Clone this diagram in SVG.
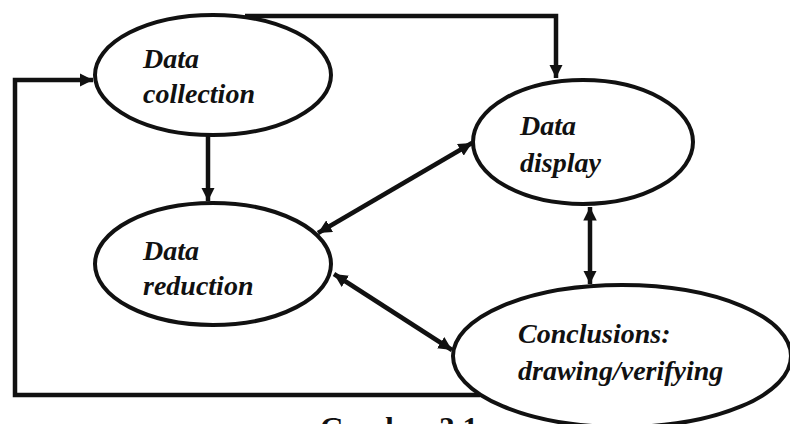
<svg xmlns="http://www.w3.org/2000/svg" width="790" height="424" viewBox="0 0 790 424">
<style>
.node ellipse{fill:#fff;stroke:#111;stroke-width:4}
.lbl{font-weight:bold;font-style:italic;font-size:28px;fill:#111}
.conn path{fill:none;stroke:#111;stroke-width:4.5}
.cap{font-weight:bold;font-size:31px;fill:#111}
</style>
<defs>
<marker id="ah" viewBox="0 0 10 10" refX="10" refY="5" markerWidth="3" markerHeight="3" orient="auto-start-reverse" markerUnits="strokeWidth">
<path d="M0,0 L10,5 L0,10 z" fill="#111"/>
</marker>
</defs>
<rect width="790" height="424" fill="#fff"/>
<g class="conn">
<path d="M245,16 H556 V78" marker-end="url(#ah)"/>
<path d="M480,395 H15 V80 H93" marker-end="url(#ah)"/>
<path d="M208,135 V201" marker-end="url(#ah)"/>
<path d="M472,143 L318,233" marker-start="url(#ah)" marker-end="url(#ah)"/>
<path d="M334,274 L452,350" marker-start="url(#ah)" marker-end="url(#ah)"/>
<path d="M590,207 V284" marker-start="url(#ah)" marker-end="url(#ah)"/>
</g>
<g font-family="'Liberation Serif', 'DejaVu Serif', serif">
<g id="data-collection" class="node">
<ellipse cx="213" cy="75" rx="118" ry="60"/>
<text class="lbl" x="143" y="68">Data</text>
<text class="lbl" x="143" y="103">collection</text>
</g>
<g id="data-display" class="node">
<ellipse cx="583" cy="142" rx="110" ry="62"/>
<text class="lbl" x="520" y="135">Data</text>
<text class="lbl" x="520" y="172">display</text>
</g>
<g id="data-reduction" class="node">
<ellipse cx="213" cy="264" rx="118" ry="61"/>
<text class="lbl" x="143" y="260">Data</text>
<text class="lbl" x="143" y="295">reduction</text>
</g>
<g id="conclusions" class="node">
<ellipse cx="622" cy="356" rx="169" ry="71"/>
<text class="lbl" x="518" y="343">Conclusions:</text>
<text class="lbl" x="518" y="380">drawing/verifying</text>
</g>
<text class="cap" x="320" y="439">Gambar 3.1</text>
</g>
</svg>
